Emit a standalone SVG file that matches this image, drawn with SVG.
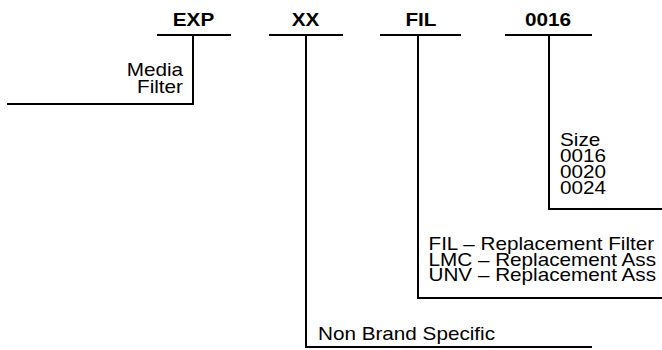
<svg xmlns="http://www.w3.org/2000/svg" width="662" height="350" viewBox="0 0 662 350">
<style>
.code{font-family:"Liberation Sans",Arial,Helvetica,sans-serif;font-weight:bold;font-size:18px;fill:#000;text-anchor:middle}
.desc{font-family:"Liberation Sans",Arial,Helvetica,sans-serif;font-size:18px;fill:#000}
.end{text-anchor:end}
.ln{fill:none;stroke:#000;stroke-width:2}
</style>
<rect width="662" height="350" fill="#fff"/>
<g id="connectors" class="ln">
<path d="M193 35V104H7"/>
<path d="M306 35V347H592"/>
<path d="M418 35V298H662"/>
<path d="M549 35V209H662"/>
</g>
<g id="node-exp">
<text class="code" transform="translate(193.5 25.5) scale(1.15 1)">EXP</text>
<path class="ln" d="M157 35H231"/>
</g>
<g id="node-xx">
<text class="code" transform="translate(305.5 25.5) scale(1.15 1)">XX</text>
<path class="ln" d="M269 35H343"/>
</g>
<g id="node-fil">
<text class="code" transform="translate(421 25.5) scale(1.15 1)">FIL</text>
<path class="ln" d="M380 35H461"/>
</g>
<g id="node-0016">
<text class="code" transform="translate(548 25.5) scale(1.15 1)">0016</text>
<path class="ln" d="M505 35H592"/>
</g>
<g id="desc-media-filter">
<text class="desc end" transform="translate(183 76) scale(1.15 1)">Media</text>
<text class="desc end" transform="translate(183 93) scale(1.15 1)">Filter</text>
</g>
<g id="desc-size">
<text class="desc" transform="translate(560 146) scale(1.15 1)">Size</text>
<text class="desc" transform="translate(560 162) scale(1.15 1)">0016</text>
<text class="desc" transform="translate(560 178) scale(1.15 1)">0020</text>
<text class="desc" transform="translate(560 194) scale(1.15 1)">0024</text>
</g>
<g id="desc-type">
<text class="desc" transform="translate(428.5 250) scale(1.15 1)">FIL – Replacement Filter</text>
<text class="desc" transform="translate(428.5 265.5) scale(1.15 1)">LMC – Replacement Ass</text>
<text class="desc" transform="translate(428.5 281) scale(1.15 1)">UNV – Replacement Ass</text>
</g>
<g id="desc-brand">
<text class="desc" transform="translate(318 340) scale(1.15 1)">Non Brand Specific</text>
</g>
</svg>
